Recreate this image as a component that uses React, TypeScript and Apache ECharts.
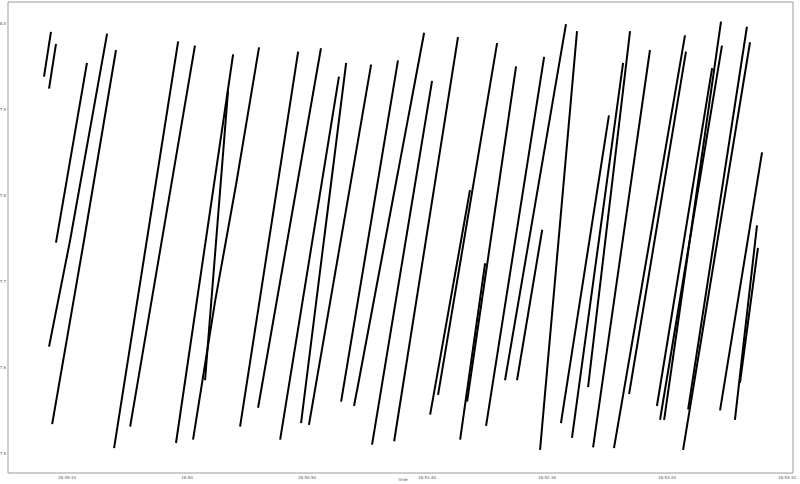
import React, { useEffect, useRef } from "react";
import * as echarts from "echarts";

// time: seconds after 18:49:00, value: measured level
const run01 = [[0.4, 7.938], [3.3, 7.990]];
const run02 = [[2.5, 7.924], [5.4, 7.976]];
const run03 = [[5.4, 7.745], [18.3, 7.954]];
const run04 = [[2.5, 7.624], [11.3, 7.748], [26.7, 7.988]];
const run05 = [[3.8, 7.534], [17.1, 7.748], [30.4, 7.969]];
const run06 = [[29.6, 7.506], [56.3, 7.979]];
const run07 = [[36.3, 7.531], [63.3, 7.974]];
const run08 = [[55.4, 7.512], [79.2, 7.964]];
const run09 = [[62.5, 7.516], [71.7, 7.677], [80.4, 7.812], [90.0, 7.972]];
const run10 = [[67.5, 7.585], [77.1, 7.922]];
const run11 = [[82.1, 7.531], [106.3, 7.967]];
const run12 = [[89.6, 7.553], [115.8, 7.971]];
const run13 = [[98.8, 7.516], [123.3, 7.938]];
const run14 = [[107.5, 7.535], [126.3, 7.954]];
const run15 = [[110.8, 7.533], [136.7, 7.952]];
const run16 = [[124.2, 7.560], [147.9, 7.957]];
const run17 = [[129.6, 7.555], [158.8, 7.989]];
const run18 = [[137.1, 7.510], [162.1, 7.933]];
const run19 = [[146.3, 7.514], [172.9, 7.984]];
const run20 = [[161.3, 7.545], [177.9, 7.806]];
const run21 = [[173.8, 7.516], [184.2, 7.721]];
const run22 = [[164.6, 7.568], [189.2, 7.977]];
const run23 = [[176.7, 7.560], [197.1, 7.950]];
const run24 = [[184.6, 7.532], [208.8, 7.961]];
const run25 = [[192.5, 7.585], [217.9, 7.999]];
const run26 = [[207.1, 7.504], [222.5, 7.991]];
const run27 = [[215.8, 7.535], [235.8, 7.893]];
const run28 = [[220.4, 7.518], [241.7, 7.954]];
const run29 = [[227.1, 7.577], [244.6, 7.991]];
const run30 = [[229.2, 7.507], [252.9, 7.969]];
const run31 = [[237.9, 7.506], [267.5, 7.986]];
const run32 = [[244.2, 7.569], [267.9, 7.967]];
const run33 = [[255.8, 7.555], [278.8, 7.948]];
const run34 = [[258.8, 7.539], [282.5, 8.002]];
const run35 = [[266.7, 7.504], [294.6, 7.978]];
const run36 = [[268.8, 7.551], [293.3, 7.996]];
const run37 = [[257.1, 7.539], [282.9, 7.974]];
const run38 = [[282.1, 7.550], [299.6, 7.850]];
const run39 = [[288.3, 7.539], [297.5, 7.765]];
const run40 = [[290.4, 7.582], [297.9, 7.739]];
const run41 = [[197.5, 7.585], [208.0, 7.760]];

const runs = [
  run01, run02, run03, run04, run05, run06, run07, run08, run09, run10,
  run11, run12, run13, run14, run15, run16, run17, run18, run19, run20,
  run21, run22, run23, run24, run25, run26, run27, run28, run29, run30,
  run31, run32, run33, run34, run35, run36, run37, run38, run39, run40,
  run41,
];

const xTicks = [10, 60, 110, 160, 210, 260, 310];
const yTicks = [7.5, 7.6, 7.7, 7.8, 7.9, 8.0];
const xTitle = "time";
const xMin = -14.6;
const xMax = 312.5;
const yMin = 7.4771;
const yMax = 8.0248;

const BASE = 18 * 3600 + 49 * 60;
function fmtTime(v: number) {
  const s = Math.round(BASE + v);
  const h = Math.floor(s / 3600);
  const m = Math.floor((s % 3600) / 60);
  const sec = s % 60;
  const p = (n: number) => String(n).padStart(2, "0");
  return sec === 0 ? `${p(h)}:${p(m)}` : `${p(h)}:${p(m)}:${p(sec)}`;
}

export default function App() {
  const ref = useRef<HTMLDivElement>(null);
  useEffect(() => {
    const chart = echarts.init(ref.current!, null, { renderer: "svg" });
    chart.setOption({
      animation: false,
      backgroundColor: "#ffffff",
      grid: {
        left: 8,
        right: 7,
        top: 2,
        bottom: 11,
        containLabel: false,
        outerBoundsMode: "none",
        show: true,
        borderColor: "#9a9a9a",
        borderWidth: 1,
        backgroundColor: "transparent",
      },
      graphic: [
        {
          type: "text",
          x: 403,
          y: 477,
          style: {
            text: xTitle,
            fontSize: 4,
            fill: "#444",
            fontFamily: "DejaVu Sans",
            align: "center",
            verticalAlign: "top",
          },
        },
      ],
      xAxis: {
        type: "value",
        min: xMin,
        max: xMax,
        axisLine: { show: false },
        splitLine: { show: false },
        axisTick: { show: false },
        axisLabel: {
          customValues: xTicks,
          formatter: (v: number) => fmtTime(v),
          fontSize: 4,
          color: "#555",
          margin: 2,
          fontFamily: "DejaVu Sans",
        },
      },
      yAxis: {
        type: "value",
        min: yMin,
        max: yMax,
        axisLine: { show: false },
        splitLine: { show: false },
        axisTick: { show: false },
        axisLabel: {
          customValues: yTicks,
          formatter: (v: number) => v.toFixed(1),
          fontSize: 4,
          color: "#555",
          margin: 2,
          fontFamily: "DejaVu Sans",
        },
      },
      series: runs.map((r, i) => ({
        name: `run${i + 1}`,
        type: "line",
        data: r,
        showSymbol: false,
        symbol: "none",
        lineStyle: { color: "#000000", width: 2 },
      })),
    });
    return () => chart.dispose();
  }, []);
  return <div ref={ref} style={{ width: 800, height: 484, position: "absolute", left: 0, top: 0 }} />;
}
